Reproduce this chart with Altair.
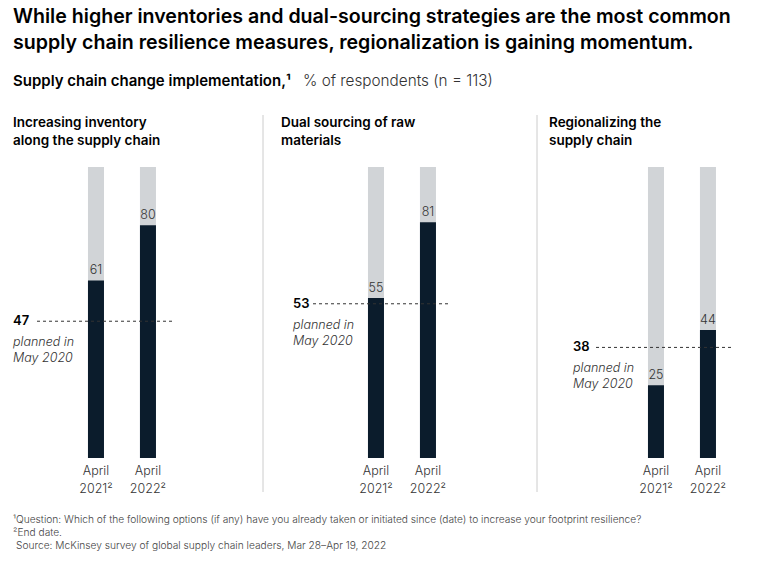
import altair as alt
import pandas as pd

# ---------------- data ----------------
panel_titles = [
    "Increasing inventory\nalong the supply chain",
    "Dual sourcing of raw\nmaterials",
    "Regionalizing the\nsupply chain",
]
periods = ["April\n2021²", "April\n2022²"]
implemented_apr_2021 = [61, 55, 25]
implemented_apr_2022 = [80, 81, 44]
planned_may_2020 = [47, 53, 38]
respondents_total = 100

title_lines = [
    "While higher inventories and dual-sourcing strategies are the most common",
    "supply chain resilience measures, regionalization is gaining momentum.",
]
subtitle_bold = "Supply chain change implementation,¹"
subtitle_rest = "% of respondents (n = 113)"
footnotes = [
    "¹Question: Which of the following options (if any) have you already taken or initiated since (date) to increase your footprint resilience?",
    "²End date.",
    "Source: McKinsey survey of global supply chain leaders, Mar 28–Apr 19, 2022",
]

rows = []
for i in range(len(panel_titles)):
    for p, v in zip(periods, [implemented_apr_2021[i], implemented_apr_2022[i]]):
        rows.append({"panel": i, "period": p, "value": v, "total": respondents_total})
bars_df = pd.DataFrame(rows)
ref_df = pd.DataFrame({
    "panel": list(range(len(panel_titles))),
    "planned": planned_may_2020,
    "label": [str(v) for v in planned_may_2020],
    "title": panel_titles,
})

# ---------------- style ----------------
W, H = 170, 291
DARK = "#0b1c2c"
GRAY = "#d1d4d7"
TEXT = "#333333"
FONT = "Inter"

yscale = alt.Scale(domain=[0, 100])


def panel(i, ref_x0, ref_x1, title_dx, sep_x=None):
    base = alt.Chart(bars_df).transform_filter(alt.datum.panel == i)
    rb = alt.Chart(ref_df).transform_filter(alt.datum.panel == i)
    x = alt.X("period:N", sort=periods, axis=None,
              scale=alt.Scale(paddingInner=0.692, paddingOuter=0.981, align=0.735))
    bg = base.mark_bar(color=GRAY).encode(
        x=x, y=alt.Y("total:Q", scale=yscale, axis=None))
    fg = base.mark_bar(color=DARK).encode(
        x=x, y=alt.Y("value:Q", scale=yscale, axis=None))
    vals = base.mark_text(baseline="bottom", dy=-3, fontSize=12.5, fontWeight=300,
                          color=TEXT, font=FONT).encode(
        x=x, y=alt.Y("value:Q", scale=yscale), text="value:Q")
    xlab = base.mark_text(baseline="top", lineBreak="\n", lineHeight=18, fontSize=12.5,
                          fontWeight=300, color=TEXT, font=FONT).encode(
        x=x, y=alt.value(H + 7), text="period:N")
    rule = rb.mark_rule(strokeDash=[3, 3], color=TEXT, strokeWidth=1).encode(
        y=alt.Y("planned:Q", scale=yscale), x=alt.value(ref_x0), x2=alt.value(ref_x1))
    rnum = rb.mark_text(align="left", baseline="middle", fontWeight=600, fontSize=13,
                        font=FONT, color="#000000").encode(
        x=alt.value(0), y=alt.Y("planned:Q", scale=yscale), text="label:N")
    rtxt = rb.mark_text(align="left", baseline="top", fontStyle="italic", fontSize=12.5,
                        fontWeight=300, lineBreak="\n", lineHeight=16, dy=15, font=FONT,
                        color=TEXT).encode(
        x=alt.value(0), y=alt.Y("planned:Q", scale=yscale), text=alt.value("planned in\nMay 2020"))
    ptitle = rb.mark_text(align="left", baseline="top", fontWeight=600, fontSize=13.5,
                          lineBreak="\n", lineHeight=18, font=FONT, color="#000000").encode(
        x=alt.value(title_dx), y=alt.value(-51), text="title:N")
    layers = [bg, fg, vals, xlab, rule, rnum, rtxt, ptitle]
    if sep_x is not None:
        sep = rb.mark_rule(color="#cccccc", strokeWidth=1).encode(
            x=alt.value(sep_x), y=alt.value(-52), y2=alt.value(325))
        layers.append(sep)
    if i == 0:
        hb = alt.Chart(ref_df).transform_filter(alt.datum.panel == 0)
        t1 = hb.mark_text(align="left", baseline="top", fontWeight=600, fontSize=19.6,
                          lineBreak="\n", lineHeight=26, font=FONT, color="#000000").encode(
            x=alt.value(0), y=alt.value(-159), text=alt.value("\n".join(title_lines)))
        s1 = hb.mark_text(align="left", baseline="middle", fontWeight=600, fontSize=15,
                          font=FONT, color="#000000").encode(
            x=alt.value(0), y=alt.value(-86), text=alt.value(subtitle_bold))
        s2 = hb.mark_text(align="left", baseline="middle", fontSize=15.3, fontWeight=300,
                          font=FONT, color=TEXT).encode(
            x=alt.value(290), y=alt.value(-86), text=alt.value(subtitle_rest))
        f_layers = []
        for k, (fy, fdx) in enumerate([(353, 0), (366, 0), (379, 3)]):
            f_layers.append(hb.mark_text(align="left", baseline="middle", fontSize=10.2,
                                         fontWeight=300, font=FONT, color="#444444",
                                         dx=fdx).encode(
                x=alt.value(0), y=alt.value(fy), text=alt.value(footnotes[k])))
        layers += [t1, s1, s2] + f_layers
    return alt.layer(*layers).properties(width=W, height=H)


p1 = panel(0, 24, 159, 0)
p2 = panel(1, 20, 158, -12, sep_x=-30)
p3 = panel(2, 23, 159, -24, sep_x=-36)

chart = alt.hconcat(p1, p2, p3, spacing=110, bounds="flush").properties(
    padding={"left": 13, "top": 7, "right": 0, "bottom": 0},
    background="white",
).configure_view(stroke=None)

chart.save("out.html", embed_options={"renderer": "svg", "actions": False})
